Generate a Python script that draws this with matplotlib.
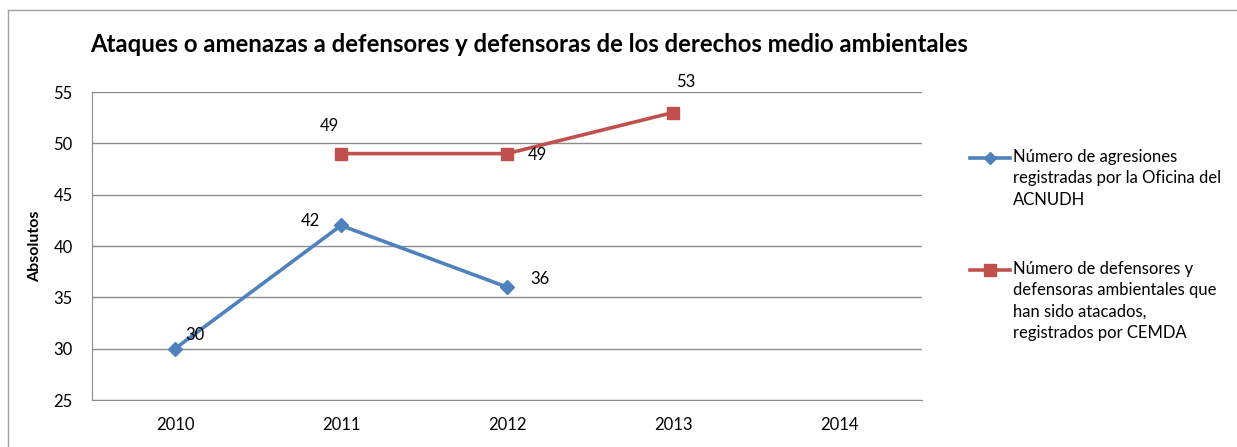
import matplotlib.pyplot as plt
from matplotlib.lines import Line2D

years = ["2010", "2011", "2012", "2013", "2014"]
acnudh = [30, 42, 36, None, None]
cemda = [None, 49, 49, 53, None]

label_acnudh = "Número de agresiones\nregistradas por la Oficina del\nACNUDH"
label_cemda = ("Número de defensores y\ndefensoras ambientales que\n"
               "han sido atacados,\nregistrados por CEMDA")

blue = "#4F81BD"
red = "#C0504D"
grid = "#8C8C8C"

plt.rcParams["font.family"] = ["Lato", "DejaVu Sans"]

W, H = 1237, 447
fig = plt.figure(figsize=(W / 100, H / 100), dpi=100)
ax = fig.add_axes([92 / W, 1 - 400 / H, (922 - 92) / W, (400 - 92) / H])

x = list(range(len(years)))


def pts(vals):
    xs = [i for i, v in zip(x, vals) if v is not None]
    ys = [v for v in vals if v is not None]
    return xs, ys


bx, by = pts(acnudh)
rx, ry = pts(cemda)
ax.plot(bx, by, color=blue, lw=2.6, marker="D", ms=7, zorder=3)
ax.plot(rx, ry, color=red, lw=2.6, marker="s", ms=9, zorder=3)

# value labels, offsets in points
off_blue = [(14, 10), (-22, 3), (24, 6)]
off_red = [(-8, 20), (22, -1), (9, 22)]
for (xi, yi), o in zip(zip(bx, by), off_blue):
    ax.annotate(str(yi), (xi, yi), xytext=o, textcoords="offset points",
                ha="center", va="center", fontsize=12)
for (xi, yi), o in zip(zip(rx, ry), off_red):
    ax.annotate(str(yi), (xi, yi), xytext=o, textcoords="offset points",
                ha="center", va="center", fontsize=12)

ax.set_xlim(-0.5, 4.5)
ax.set_ylim(25, 55)
ax.set_yticks(range(25, 56, 5))
ax.set_xticks(x)
ax.set_xticklabels(years)
ax.yaxis.grid(True, color=grid, lw=1)
ax.set_axisbelow(True)
for s in ("top", "right"):
    ax.spines[s].set_visible(False)
for s in ("left", "bottom"):
    ax.spines[s].set_color(grid)
ax.tick_params(length=0, labelsize=12, pad=12)
ax.tick_params(axis="y", pad=14)
ax.set_ylabel("Absolutos", fontsize=11.5, fontweight="bold", labelpad=8)

fig.text(90 / W, 1 - 44 / H, "Ataques o amenazas a defensores y defensoras de los derechos medio ambientales",
         fontsize=17.2, fontweight="bold", va="center", ha="left")

# legend drawn by hand so entries sit apart like the original
for yy, col, mk, ms, txt in [(158, blue, "D", 6, label_acnudh),
                             (270, red, "s", 8, label_cemda)]:
    yf = 1 - yy / H
    fig.add_artist(Line2D([970 / W, 1010 / W], [yf, yf], color=col, lw=2.6))
    fig.add_artist(Line2D([990 / W], [yf], color=col, marker=mk, ms=ms))
    fig.text(1013 / W, yf + 9 / H, txt, fontsize=12, va="top", ha="left",
             linespacing=1.42)

# outer chart border (top and left edges visible)
fig.add_artist(Line2D([8 / W, 1], [1 - 10 / H, 1 - 10 / H], color="#A0A0A0", lw=1))
fig.add_artist(Line2D([8 / W, 8 / W], [0, 1 - 10 / H], color="#A0A0A0", lw=1))

fig.savefig("out.png", dpi=100)
